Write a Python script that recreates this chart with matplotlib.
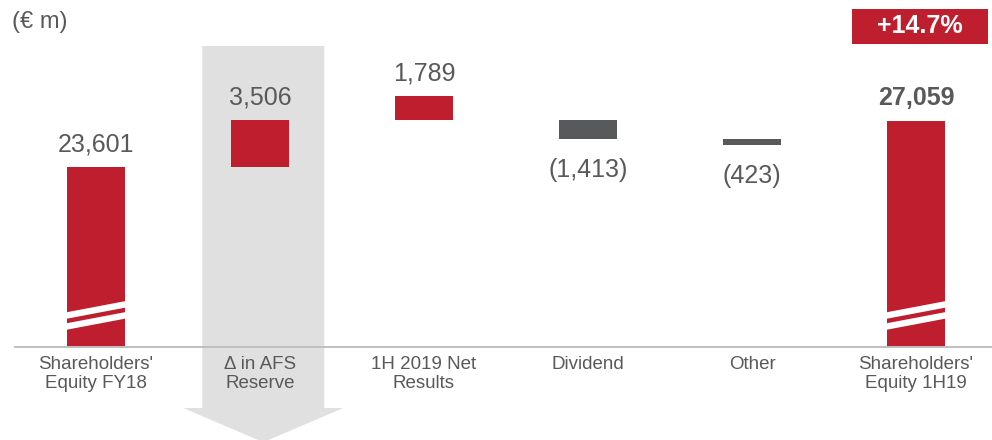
import matplotlib
matplotlib.use('Agg')
import matplotlib.pyplot as plt
import matplotlib.transforms as mtransforms
from matplotlib.patches import Polygon, Rectangle

plt.rcParams['font.family'] = ['Liberation Sans', 'DejaVu Sans']

# data (€ m)
categories = ["Shareholders'\nEquity FY18", "\u0394 in AFS\nReserve", "1H 2019 Net\nResults",
              "Dividend", "Other", "Shareholders'\nEquity 1H19"]
start_equity = 23601
afs_change = 3506
net_result = 1789
dividend = -1413
other = -423
end_equity = 27059
growth_label = '+14.7%'

RED = '#BE1E2D'
DARK = '#58595B'
TEXT = '#595959'

fig = plt.figure(figsize=(9.92, 4.40), dpi=100)
ax = fig.add_axes([0, 0, 1, 1])
ax.set_xlim(-0.585, 5.463)
ax.set_ylim(3150, 36100)
ax.axis('off')

floor = 10100                      # broken axis: totals are cut here
px = (36100 - 3150) / 440.0        # value units per pixel
w = 0.354

# waterfall levels (the reference hangs the dividend from the net-results base)
level = start_equity + afs_change
bottoms = [floor, start_equity, level, level + dividend, level + dividend + other, floor]
tops = [start_equity, level, level + net_result, level, level + dividend, end_equity]
colors = [RED, RED, RED, DARK, DARK, RED]
x = list(range(len(categories)))

# big grey arrow behind the AFS column
trans = mtransforms.blended_transform_factory(ax.transData, ax.transAxes)
c = 1.02
arrow = Polygon([(c - 0.372, 0.8955), (c + 0.372, 0.8955), (c + 0.372, 0.0727),
                 (c + 0.488, 0.0727), (c, -0.005), (c - 0.488, 0.0727), (c - 0.372, 0.0727)],
                closed=True, facecolor='#E0E0E0', edgecolor='none', transform=trans,
                zorder=1, clip_on=False)
ax.add_patch(arrow)

ax.bar(x, [t - b for t, b in zip(tops, bottoms)], bottom=bottoms, width=w,
       color=colors, zorder=3)

# break marks on the two total bars
for i in (0, 5):
    x0, x1 = i - w / 2, i + w / 2
    for b in (17.5, 28.5):
        ax.add_patch(Polygon([(x0, floor + b * px), (x1, floor + (b + 11) * px),
                              (x1, floor + (b + 17.5) * px), (x0, floor + (b + 6.5) * px)],
                             closed=True, facecolor='white', edgecolor='none', zorder=4))

ax.hlines(floor, -0.5, 5.463, color='#BFBFBF', lw=1.4, zorder=5)

# value labels
values = [start_equity, afs_change, net_result, dividend, other, end_equity]
for i, v in enumerate(values):
    if v >= 0:
        ax.annotate(f'{v:,}', (i, tops[i]), xytext=(0, 11), textcoords='offset points',
                    ha='center', va='baseline', fontsize=18, color=TEXT,
                    fontweight='bold' if i == 5 else 'normal', zorder=6)
    else:
        ax.annotate(f'({abs(v):,})', (i, bottoms[i]), xytext=(0, -14), textcoords='offset points',
                    ha='center', va='top', fontsize=18, color=TEXT, zorder=6)

# category labels
for i, lab in enumerate(categories):
    ax.annotate(lab, (i, floor), xytext=(0, -6), textcoords='offset points',
                ha='center', va='top', fontsize=13.5, color=TEXT, linespacing=1.2, zorder=6)

fig.text(0.012, 0.95, '(\u20ac m)', ha='left', va='center', fontsize=17, color=TEXT)

# growth badge
fig.patches.append(Rectangle((0.859, 0.9), 0.137, 0.0795, transform=fig.transFigure,
                             facecolor=RED, edgecolor='none'))
fig.text(0.9275, 0.94, growth_label, ha='center', va='center', fontsize=18,
         fontweight='bold', color='white')

fig.savefig('out.png', dpi=100)
